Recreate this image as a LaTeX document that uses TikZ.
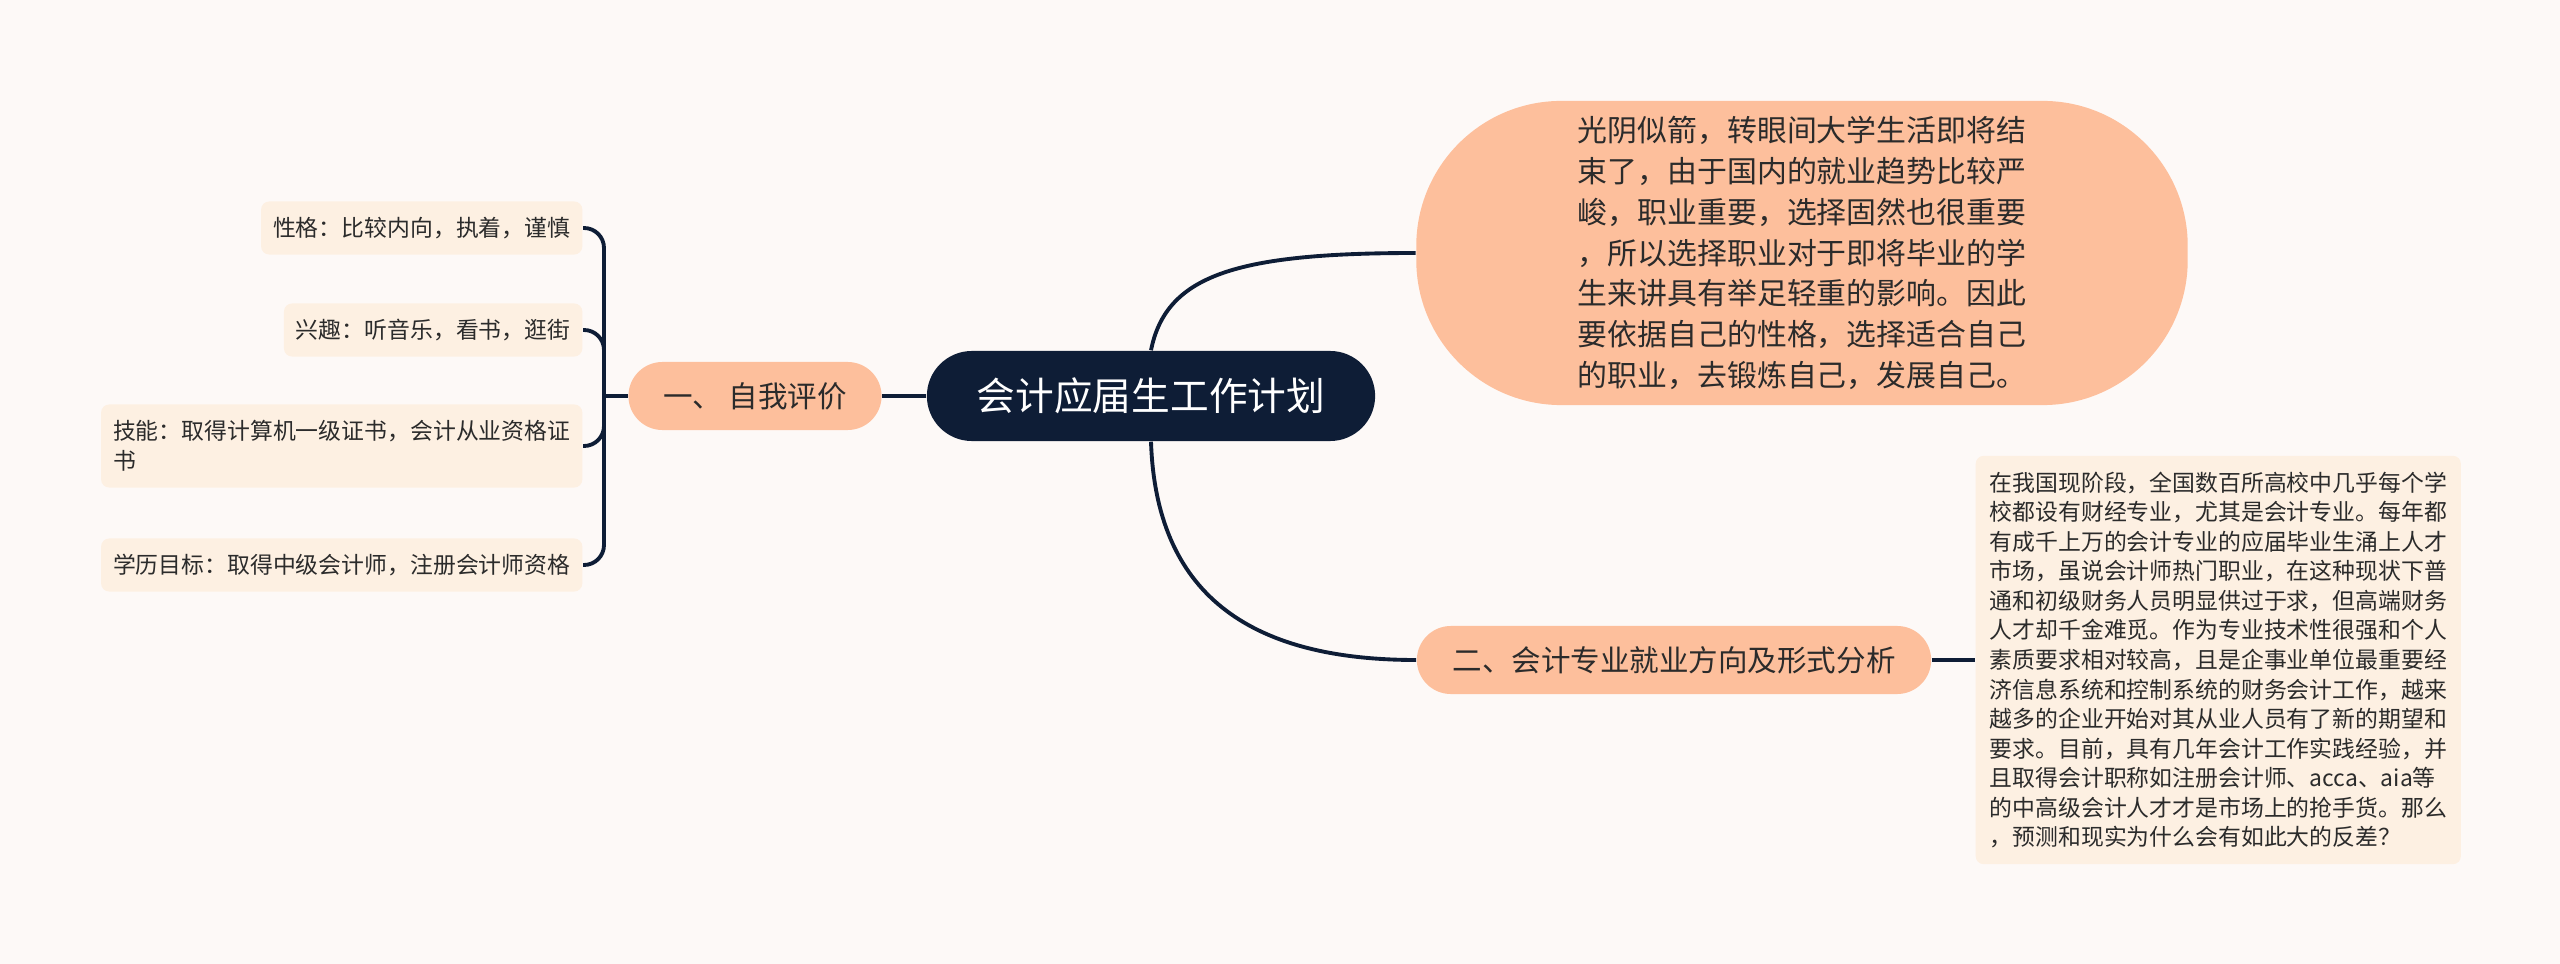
\documentclass[tikz,border=0pt]{standalone}
\usepackage{fontspec}
\setmainfont{Noto Sans CJK SC}
\usetikzlibrary{positioning}
\definecolor{bgcol}{HTML}{FDF9F7}
\definecolor{navy}{HTML}{0E1D36}
\definecolor{peach}{HTML}{FDBF9C}
\definecolor{cream}{HTML}{FDF0E2}
\definecolor{ink}{HTML}{2B2B2B}

\begin{document}
\begin{tikzpicture}[x=0.01cm, y=-0.01cm,
    conn/.style={draw=navy, line width=1.1pt},
    rootbox/.style={fill=navy, text=white, rounded corners=0.45cm, minimum width=4.48cm,
        minimum height=0.9cm, font=\fontsize{11}{13}\selectfont},
    mainbox/.style={fill=peach, text=ink, rounded corners=0.34cm, minimum height=0.68cm,
        font=\fontsize{8.4}{10}\selectfont},
    bigbox/.style={fill=peach, text=ink, rounded corners=1.45cm, minimum width=7.71cm,
        minimum height=3.04cm, align=left, font=\fontsize{8.5}{11.6}\selectfont},
    leafbox/.style={fill=cream, text=ink, rounded corners=0.08cm, inner xsep=0.12cm,
        align=left, font=\fontsize{6.5}{8.4}\selectfont}]

    % Fond
    \fill[bgcol] (0,0) rectangle (2560,964);

    % Centre
    \node[rootbox] (root) at (1151,396) {会计应届生工作计划};

    % Branches principales
    \node[mainbox, minimum width=2.53cm] (ziwo) at (755,396) {一、 自我评价};
    \node[mainbox, minimum width=5.14cm] (fenxi) at (1674,660) {二、会计专业就业方向及形式分析};
    \node[bigbox] (guangyin) at (1802,253) {光阴似箭，转眼间大学生活即将结\\
        束了，由于国内的就业趋势比较严\\
        峻，职业重要，选择固然也很重要\\
        ，所以选择职业对于即将毕业的学\\
        生来讲具有举足轻重的影响。因此\\
        要依据自己的性格，选择适合自己\\
        的职业，去锻炼自己，发展自己。};

    % Feuilles a gauche
    \node[leafbox, anchor=east, minimum height=0.53cm] (xingge) at (583,228) {性格：比较内向，执着，谨慎};
    \node[leafbox, anchor=east, minimum height=0.53cm] (xingqu) at (583,330) {兴趣：听音乐，看书，逛街};
    \node[leafbox, anchor=east, minimum height=0.83cm] (jineng) at (583,446) {技能：取得计算机一级证书，会计从业资格证\\书};
    \node[leafbox, anchor=east, minimum height=0.53cm] (xueli) at (583,565) {学历目标：取得中级会计师，注册会计师资格};

    % Feuille a droite
    \node[leafbox, anchor=west, inner xsep=0.14cm, inner ysep=0.16cm] (xianzhuang) at (1975,660) {在我国现阶段，全国数百所高校中几乎每个学\\
        校都设有财经专业，尤其是会计专业。每年都\\
        有成千上万的会计专业的应届毕业生涌上人才\\
        市场，虽说会计师热门职业，在这种现状下普\\
        通和初级财务人员明显供过于求，但高端财务\\
        人才却千金难觅。作为专业技术性很强和个人\\
        素质要求相对较高，且是企事业单位最重要经\\
        济信息系统和控制系统的财务会计工作，越来\\
        越多的企业开始对其从业人员有了新的期望和\\
        要求。目前，具有几年会计工作实践经验，并\\
        且取得会计职称如注册会计师、acca、aia等\\
        的中高级会计人才才是市场上的抢手货。那么\\
        ，预测和现实为什么会有如此大的反差？};

    % Liens
    \draw[conn] (root.west) -- (ziwo.east);
    \draw[conn] (root.north) .. controls +(15,-75) and +(-180,0) .. (guangyin.west);
    \draw[conn] (root.south) .. controls +(5,150) and +(-170,0) .. (fenxi.west);
    \draw[conn] (fenxi.east) -- (xianzhuang.west);

    \coordinate (fork) at (604,396);
    \draw[conn] (ziwo.west) -- (fork);
    \foreach \n in {xingge,xingqu,jineng,xueli}
        \draw[conn, rounded corners=0.2cm] (fork) |- (\n.east);
\end{tikzpicture}
\end{document}
